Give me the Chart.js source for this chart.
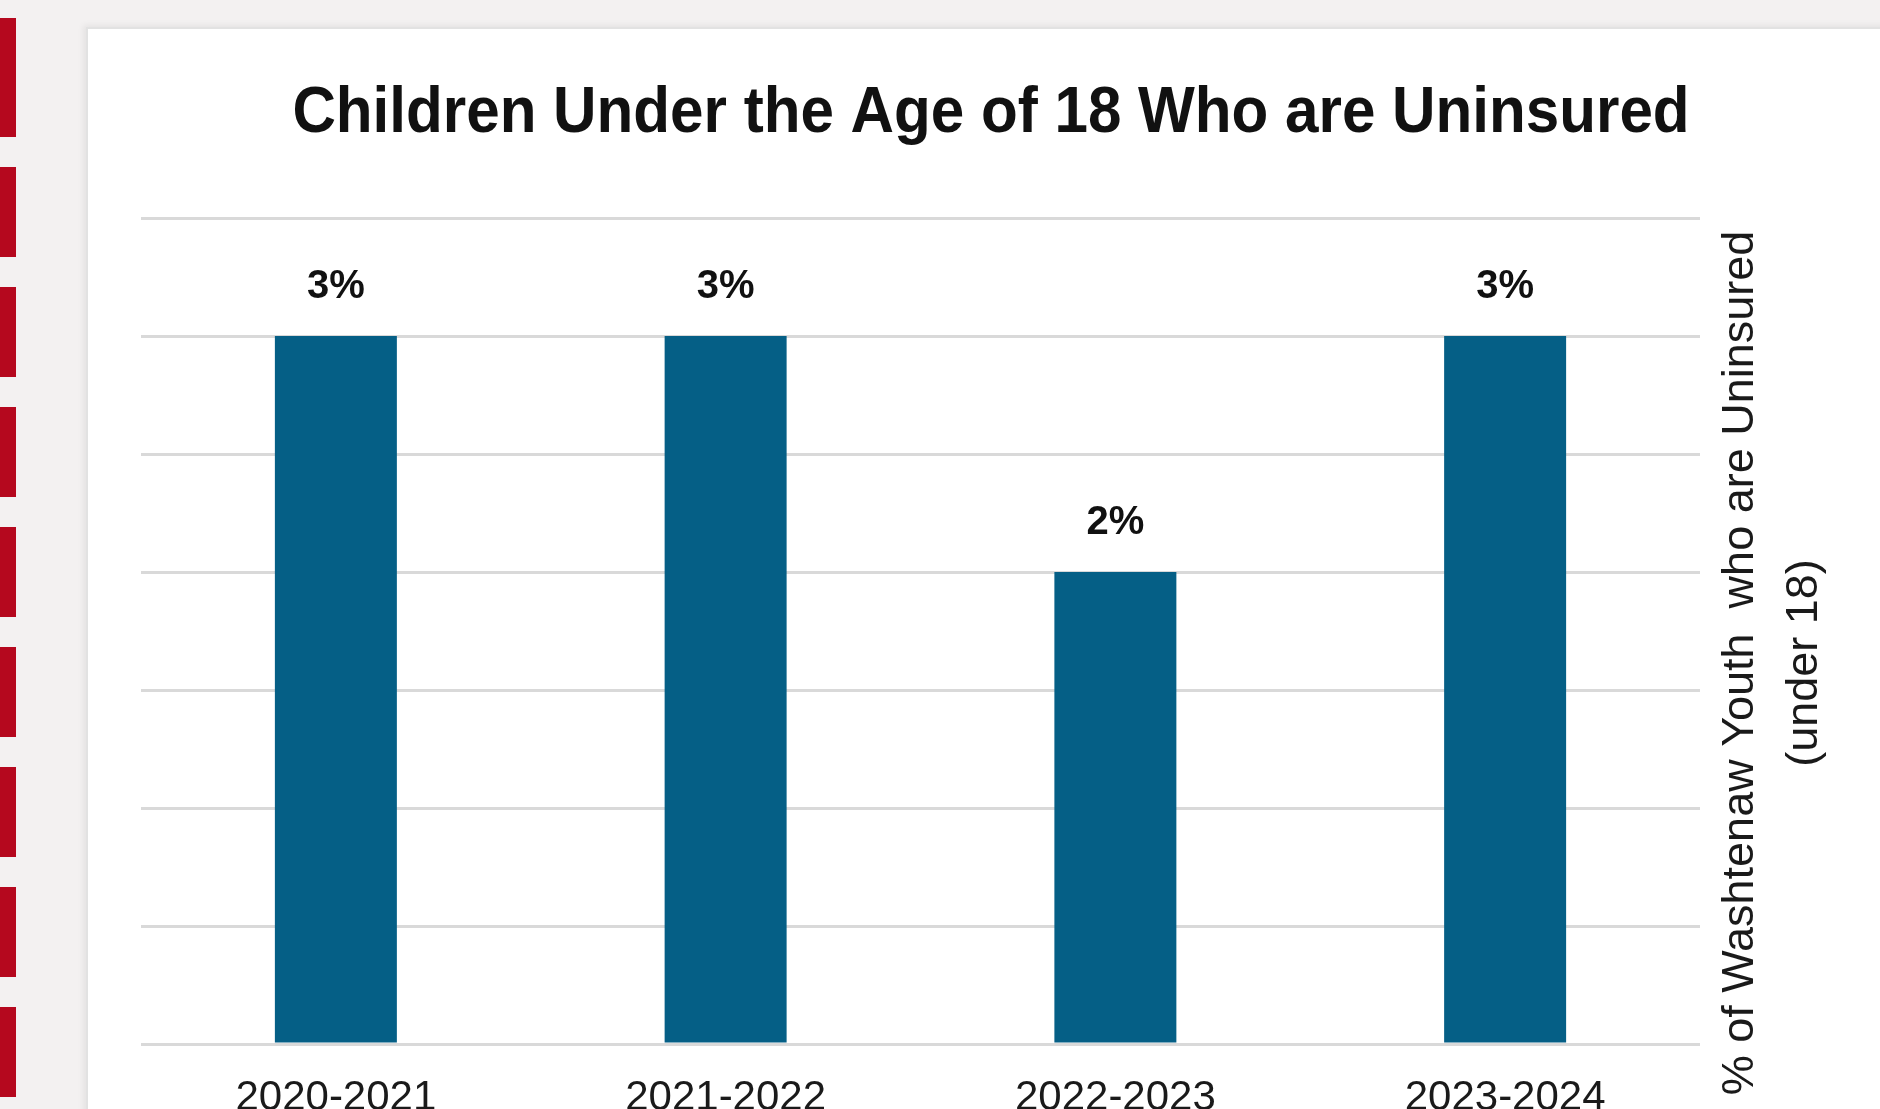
<!DOCTYPE html>
<html>
<head>
<meta charset="utf-8">
<script src="https://cdn.jsdelivr.net/npm/chart.js@4"></script>
<style>
  html, body { margin: 0; padding: 0; width: 1880px; height: 1109px; overflow: hidden; background: #f3f1f1; }
  .redline {
    position: absolute; left: 0; top: 0; width: 16px; height: 1109px;
    background: repeating-linear-gradient(to bottom, #b5081e 0px, #b5081e 90px, transparent 90px, transparent 120px);
    background-position: 0 47px;
  }
  .card {
    position: absolute; left: 86px; top: 27px; width: 1820px; height: 1120px;
    background: #fff; border: 2px solid #e2e2e2; box-shadow: -3px -2px 6px rgba(0,0,0,0.06);
  }
  #wrap { position: absolute; left: 0; top: 0; width: 1880px; height: 1160px; }
</style>
</head>
<body>
<div class="redline"></div>
<div class="card"></div>
<div id="wrap"><canvas id="chart"></canvas></div>
<script>
// データ
const categories = ['2020-2021', '2021-2022', '2022-2023', '2023-2024'];
const uninsuredPct = [3, 3, 2, 3];
const yMin = 0;
const yMax = 3.5;
const yStep = 0.5;

const chartTitle = 'Children Under the Age of 18 Who are Uninsured';
const yTitleLines = ['% of Washtenaw Youth  who are Uninsured', '(under 18)'];

const fontFamily = "'Liberation Sans', Arial, sans-serif";

// タイトル・軸タイトル・ラベルを描く
const textPlugin = {
    id: 'textPlugin',
    afterDraw(chart) {
        const c = chart.ctx;
        c.save();
        // タイトル
        c.fillStyle = '#111';
        c.font = 'bold 64px ' + fontFamily;
        c.textAlign = 'center';
        c.textBaseline = 'alphabetic';
        c.save();
        c.translate(991, 132);
        c.scale(0.94, 1);
        c.fillText(chartTitle, 0, 0);
        c.restore();

        // 値ラベル
        c.font = 'bold 40px ' + fontFamily;
        c.textBaseline = 'middle';
        const meta = chart.getDatasetMeta(0);
        meta.data.forEach((bar, i) => {
            c.fillText(uninsuredPct[i] + '%', bar.x, bar.y - 49);
        });

        // 右側の軸タイトル
        c.font = '45px ' + fontFamily;
        c.fillStyle = '#1a1a1a';
        const xs = [1741, 1805];
        yTitleLines.forEach((line, i) => {
            c.save();
            c.translate(xs[i], 663);
            c.rotate(-Math.PI / 2);
            c.fillText(line, 0, 0);
            c.restore();
        });
        c.restore();
    }
};

const ctx = document.getElementById('chart');
new Chart(ctx, {
    type: 'bar',
    data: {
        labels: categories,
        datasets: [{
            data: uninsuredPct,
            backgroundColor: '#055f86',
            borderWidth: 0,
            categoryPercentage: 1,
            barPercentage: 0.313,
        }],
    },
    options: {
        responsive: true,
        maintainAspectRatio: false,
        animation: false,
        layout: { padding: { left: 141, right: 180, top: 218, bottom: 7.6 } },
        plugins: {
            legend: { display: false },
            title: { display: false },
            tooltip: { enabled: false },
        },
        scales: {
            x: {
                grid: { display: false, drawTicks: false },
                border: { display: false },
                ticks: {
                    color: '#1a1a1a',
                    font: { family: fontFamily, size: 42 },
                    padding: 29,
                    maxRotation: 0,
                },
            },
            y: {
                min: yMin,
                max: yMax,
                ticks: { display: false, stepSize: yStep },
                grid: { color: '#d9d9d9', lineWidth: 3, drawTicks: false },
                border: { display: false },
            },
        },
    },
    plugins: [textPlugin],
});
</script>
</body>
</html>
